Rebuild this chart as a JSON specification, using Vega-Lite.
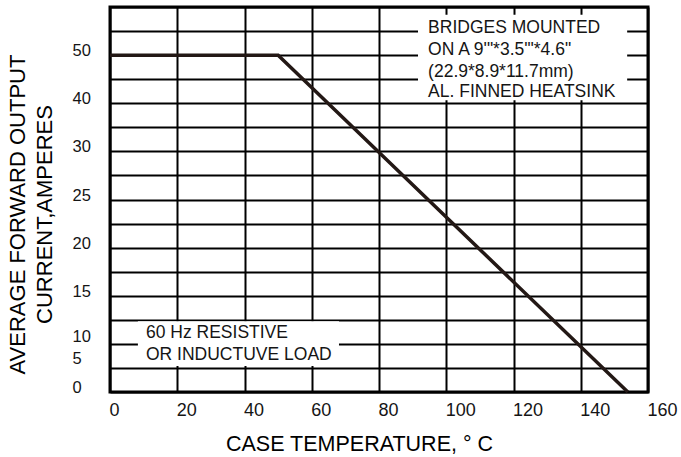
{
  "$schema": "https://vega.github.io/schema/vega-lite/v6.json",
  "width": 538,
  "height": 385,
  "autosize": {"type": "none"},
  "padding": {"left": 110, "top": 7, "right": 33, "bottom": 65},
  "background": "white",
  "config": {
    "view": {"stroke": "#000000", "strokeWidth": 3},
    "font": "Liberation Sans"
  },
  "datasets": {
    "curve": [
      {"temp": 0, "current": 50},
      {"temp": 50, "current": 50},
      {"temp": 154, "current": 0}
    ],
    "boxes": [
      {"temp": 91.6, "temp2": 153.8, "current": 40.6, "current2": 58.4},
      {"temp": 8.3, "temp2": 68.1, "current": 4.5, "current2": 12.2}
    ],
    "notes": [
      {"temp": 94.6, "current": 55.65, "label": "BRIDGES MOUNTED"},
      {"temp": 94.6, "current": 51.07, "label": "ON A 9'\"*3.5'\"*4.6\""},
      {"temp": 94.6, "current": 46.5, "label": "(22.9*8.9*11.7mm)"},
      {"temp": 94.6, "current": 42.35, "label": "AL. FINNED HEATSINK"},
      {"temp": 10.7, "current": 10.92, "label": "60 Hz RESISTIVE"},
      {"temp": 10.7, "current": 6.89, "label": "OR INDUCTUVE LOAD"}
    ]
  },
  "encoding": {
    "x": {
      "field": "temp", "type": "quantitative",
      "title": "CASE TEMPERATURE, ° C",
      "scale": {"domain": [0, 160], "nice": false, "zero": false},
      "axis": {
        "values": [0, 20, 40, 60, 80, 100, 120, 140, 160],
        "grid": true, "gridColor": "#000000", "gridWidth": 2, "gridOpacity": 1,
        "ticks": false, "domain": false,
        "labelAlign": "left", "labelFlush": false, "labelOverlap": false,
        "labelOffset": -1, "labelPadding": 9, "labelBaseline": "top",
        "labelFontSize": 18, "labelFont": "Liberation Sans", "labelColor": "#151515",
        "titleFontSize": 21.5, "titleFont": "Liberation Sans", "titleFontWeight": "normal", "titleColor": "#000000",
        "titleX": 249, "titleY": 52, "titleBaseline": "middle", "titleAlign": "center", "titleAnchor": null
      }
    },
    "y": {
      "field": "current", "type": "quantitative",
      "title": ["AVERAGE FORWARD OUTPUT", "CURRENT,AMPERES"],
      "scale": {"domain": [0, 5, 10, 15, 20, 25, 30, 40, 50, 60], "range": [385, 356.125, 334.47, 288.75, 240.625, 192.5, 144.375, 96.25, 48.125, 0], "nice": false, "zero": false},
      "axis": {
        "values": [0, 4.1667, 5, 9.4444, 10, 12.3684, 15, 17.5, 20, 22.5, 25, 27.5, 30, 35, 40, 45, 50, 55, 60],
        "grid": true, "gridColor": "#000000", "gridWidth": 2,
        "gridOpacity": {"condition": {"test": "datum.value == 5 || datum.value == 10", "value": 0}, "value": 1},
        "ticks": false, "domain": false,
        "labelExpr": "indexof([0,5,10,15,20,25,30,40,50], datum.value) >= 0 ? '' + datum.value : ''",
        "labelAlign": "left", "labelBaseline": "middle", "labelOverlap": false, "labelFlush": false,
        "labelPadding": 38, "labelOffset": -4.5,
        "labelFontSize": 16.5, "labelFont": "Liberation Sans", "labelColor": "#151515",
        "titleFontSize": 22, "titleFont": "Liberation Sans", "titleFontWeight": "normal", "titleColor": "#000000",
        "titleAngle": -90, "titleAlign": "center", "titleBaseline": "middle", "titleLineHeight": 27,
        "titleX": -93, "titleY": 207, "titleAnchor": null
      }
    }
  },
  "layer": [
    {
      "data": {"name": "boxes"},
      "mark": {"type": "rect", "fill": "white"},
      "encoding": {
        "x2": {"field": "temp2"},
        "y2": {"field": "current2"}
      }
    },
    {
      "data": {"name": "notes"},
      "mark": {"type": "text", "align": "left", "baseline": "middle", "fontSize": 17.5, "font": "Liberation Sans", "color": "#151515"},
      "encoding": {
        "text": {"field": "label"}
      }
    },
    {
      "data": {"name": "curve"},
      "mark": {"type": "line", "color": "#231815", "strokeWidth": 3.5},
      "encoding": {}
    }
  ]
}
